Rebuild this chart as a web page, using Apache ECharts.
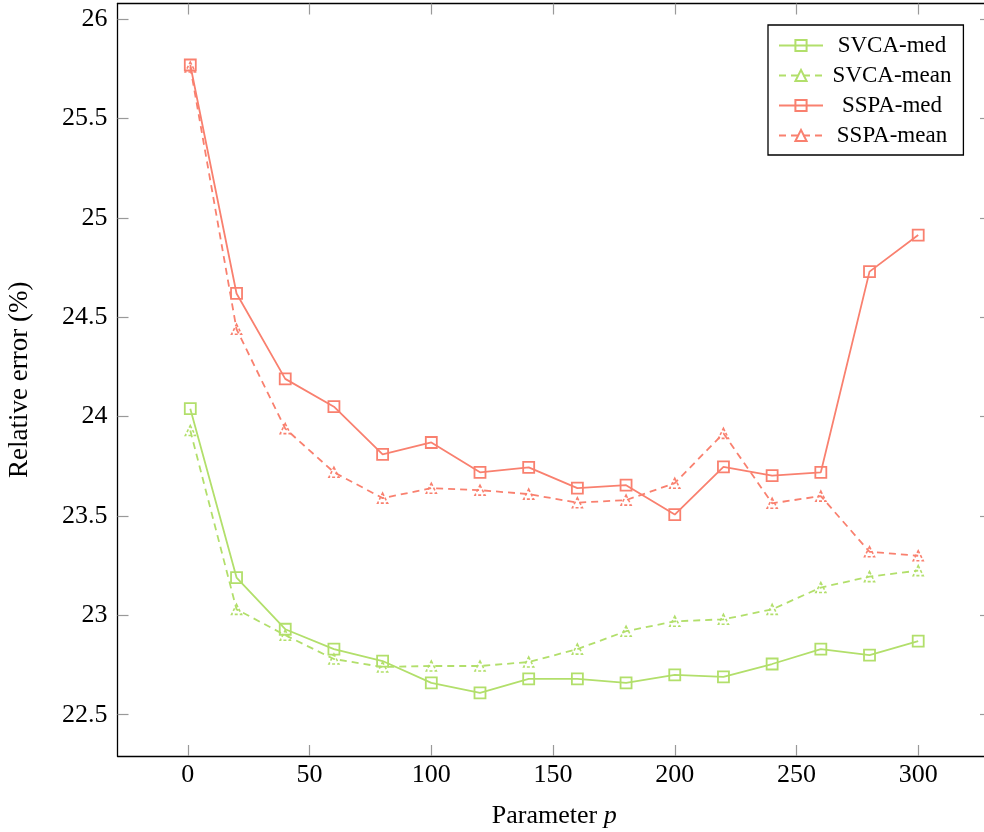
<!DOCTYPE html>
<html>
<head>
<meta charset="utf-8">
<script src="https://cdn.jsdelivr.net/npm/echarts@6/dist/echarts.min.js"></script>
<style>
  html, body { margin: 0; padding: 0; background: #fff; }
  #chart { width: 984px; height: 832px; }
</style>
</head>
<body>
<div id="chart"></div>
<script>
// Parameter values p
const pValues = [1, 20, 40, 60, 80, 100, 120, 140, 160, 180, 200, 220, 240, 260, 280, 300];

// Relative error (%) for each method
const svcaMed  = [24.04, 23.19, 22.93, 22.83, 22.77, 22.66, 22.61, 22.68, 22.68, 22.66, 22.70, 22.69, 22.755, 22.83, 22.80, 22.87];
const svcaMean = [23.93, 23.03, 22.90, 22.78, 22.74, 22.745, 22.745, 22.765, 22.83, 22.92, 22.97, 22.98, 23.03, 23.14, 23.195, 23.225];
const sspaMed  = [25.77, 24.62, 24.19, 24.05, 23.81, 23.87, 23.72, 23.745, 23.64, 23.655, 23.507, 23.747, 23.703, 23.72, 24.73, 24.914];
const sspaMean = [25.76, 24.44, 23.94, 23.72, 23.59, 23.64, 23.63, 23.61, 23.567, 23.58, 23.665, 23.916, 23.564, 23.60, 23.32, 23.30];

// Tick labels
const xTicks = [0, 50, 100, 150, 200, 250, 300];
const yTicks = [22.5, 23, 23.5, 24, 24.5, 25, 25.5, 26];

const GREEN = '#b2df6b';
const RED = '#f9806f';
const FONT = '"Liberation Serif", "DejaVu Serif", serif';

const pair = (ys) => pValues.map((x, i) => [x, ys[i]]);

function medSeries(name, ys, color) {
  return {
    name, type: 'line', data: pair(ys),
    symbol: 'rect', symbolSize: 11,
    lineStyle: { color, width: 1.8, type: 'solid' },
    itemStyle: { color: 'rgba(255,255,255,0)', borderColor: color, borderWidth: 1.8 },
    emphasis: { disabled: true }
  };
}
function meanSeries(name, ys, color) {
  return {
    name, type: 'line', data: pair(ys),
    symbol: 'triangle', symbolSize: 10,
    lineStyle: { color, width: 1.8, type: [7, 5] },
    itemStyle: { color: 'rgba(255,255,255,0)', borderColor: color, borderWidth: 1.6, borderType: [3, 2] },
    emphasis: { disabled: true }
  };
}

const xMin = -28.9, xMax = 329.9;
const yMin = 22.292, yMax = 26.0795;

const tickStyle = { inside: true, length: 11, lineStyle: { color: '#999', width: 1.2 } };
const axisLineStyle = { show: true, onZero: false, lineStyle: { color: '#000', width: 1.3 } };

const chart = echarts.init(document.getElementById('chart'));
chart.setOption({
  animation: false,
  backgroundColor: '#fff',
  grid: { left: 117.5, top: 3.5, width: 873.5, height: 752.5, containLabel: false, outerBoundsMode: 'none' },
  legend: {
    orient: 'vertical',
    left: 768, top: 25,
    padding: [9, 12, 8, 10],
    itemGap: 7,
    itemWidth: 44, itemHeight: 14,
    borderColor: '#000', borderWidth: 1.3,
    backgroundColor: '#fff',
    formatter: (name) => '{c|' + name + '}',
    textStyle: {
      rich: { c: { fontFamily: FONT, fontSize: 23, color: '#000', width: 128, align: 'center' } }
    },
    data: ['SVCA-med', 'SVCA-mean', 'SSPA-med', 'SSPA-mean']
  },
  xAxis: [{
    type: 'value', min: xMin, max: xMax, position: 'bottom',
    splitLine: { show: false },
    axisLine: axisLineStyle,
    axisTick: Object.assign({ customValues: xTicks }, tickStyle),
    axisLabel: { customValues: xTicks, fontFamily: FONT, fontSize: 26, color: '#000', margin: 6 },
    name: '{n|Parameter }{i|p}',
    nameLocation: 'middle', nameGap: 47,
    nameTextStyle: {
      rich: {
        n: { fontFamily: FONT, fontSize: 26, color: '#000' },
        i: { fontFamily: FONT, fontSize: 26, color: '#000', fontStyle: 'italic' }
      }
    }
  }, {
    type: 'value', min: xMin, max: xMax, position: 'top',
    splitLine: { show: false },
    axisLine: axisLineStyle,
    axisTick: Object.assign({ customValues: xTicks }, tickStyle),
    axisLabel: { show: false }
  }],
  yAxis: [{
    type: 'value', min: yMin, max: yMax, position: 'left',
    splitLine: { show: false },
    axisLine: axisLineStyle,
    axisTick: Object.assign({ customValues: yTicks }, tickStyle),
    axisLabel: { customValues: yTicks, fontFamily: FONT, fontSize: 26, color: '#000', margin: 10 },
    name: 'Relative error (%)',
    nameLocation: 'middle', nameGap: 84, nameRotate: 90,
    nameTextStyle: { fontFamily: FONT, fontSize: 27, color: '#000' }
  }, {
    type: 'value', min: yMin, max: yMax, position: 'right',
    splitLine: { show: false },
    axisLine: axisLineStyle,
    axisTick: Object.assign({ customValues: yTicks }, tickStyle),
    axisLabel: { show: false }
  }],
  series: [
    medSeries('SVCA-med', svcaMed, GREEN),
    meanSeries('SVCA-mean', svcaMean, GREEN),
    medSeries('SSPA-med', sspaMed, RED),
    meanSeries('SSPA-mean', sspaMean, RED)
  ]
});
</script>
</body>
</html>
